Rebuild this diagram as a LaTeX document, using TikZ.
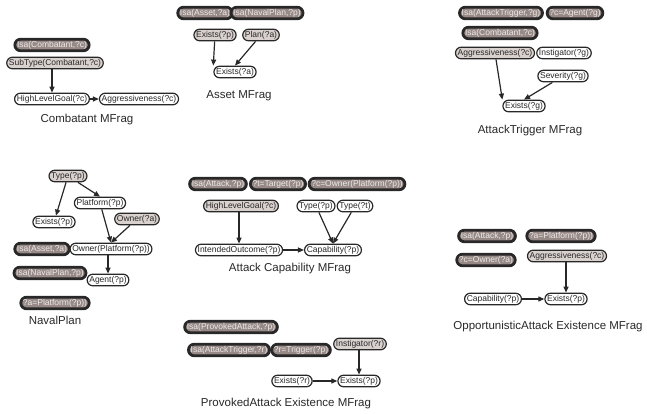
\documentclass[tikz,border=0pt]{standalone}
\usepackage{fontspec}
\setmainfont{Liberation Sans}
\usetikzlibrary{arrows.meta}
\definecolor{ctxfill}{RGB}{150,137,134}
\definecolor{ctxtext}{RGB}{238,234,233}
\definecolor{inpfill}{RGB}{217,209,206}
\definecolor{edge}{RGB}{40,40,40}
\tikzset{
  nd/.style={rectangle, rounded corners=5.8pt, inner xsep=2.2pt, inner ysep=1.4pt, minimum height=11.6pt, font=\fontsize{8.5}{9}\selectfont, text=edge},
  ctx/.style={nd, draw=edge, line width=2.8pt, fill=ctxfill, text=ctxtext},
  inp/.style={nd, draw=edge, line width=1.2pt, fill=inpfill},
  res/.style={nd, draw=edge, line width=1.2pt, fill=white},
  ttl/.style={font=\fontsize{11.5}{13}\selectfont, text=edge},
  arr/.style={draw=edge, line width=1.2pt, -{Triangle[length=6pt,width=5pt]}}
}
\begin{document}
\begin{tikzpicture}[x=1pt,y=-1pt]
\useasboundingbox (0,0) rectangle (647,414);
% Combatant MFrag
\node[ctx] (c1) at (52,45) {Isa(Combatant,?c)};
\node[inp] (c2) at (55,63) {SubType(Combatant,?c)};
\node[res] (c3) at (52,99) {HighLevelGoal(?c)};
\node[res] (c4) at (139,99) {Aggressiveness(?c)};
\node[ttl] (ct) at (87,120) {Combatant MFrag};
\draw[arr] (c2.south -| c3) -- (c3.north);
\draw[arr] (c3) -- (c4);
% Asset MFrag
\node[ctx] (a1) at (205,13) {Isa(Asset,?a)};
\node[ctx] (a2) at (267,13) {Isa(NavalPlan,?p)};
\node[inp] (a3) at (215,35) {Exists(?p)};
\node[inp] (a4) at (261,35) {Plan(?a)};
\node[res] (a5) at (235,72) {Exists(?a)};
\node[ttl] (at) at (239,96) {Asset MFrag};
\draw[arr] (a3) -- (a5.north west);
\draw[arr] (a4) -- (a5.north);
% AttackTrigger MFrag
\node[ctx] (t1) at (501,13) {Isa(AttackTrigger,?g)};
\node[ctx] (t2) at (575,13) {?c=Agent(?g)};
\node[ctx] (t3) at (500,33) {Isa(Combatant,?c)};
\node[inp] (t4) at (495,53) {Aggressiveness(?c)};
\node[res] (t5) at (564,53) {Instigator(?g)};
\node[res] (t6) at (563,76) {Severity(?g)};
\node[res] (t7) at (524,106) {Exists(?g)};
\node[ttl] (tt) at (530,131) {AttackTrigger MFrag};
\draw[arr] (t4) -- (t7.north west);
\draw[arr] (t6) -- (t7.north);
% NavalPlan
\node[inp] (n1) at (68,176) {Type(?p)};
\node[res] (n2) at (100,203) {Platform(?p)};
\node[res] (n3) at (54,222) {Exists(?p)};
\node[inp] (n4) at (137,219) {Owner(?a)};
\node[ctx] (n5) at (42,249) {Isa(Asset,?a)};
\node[res] (n6) at (111,249) {Owner(Platform(?p))};
\node[ctx] (n7) at (50,273) {Isa(NavalPlan,?p)};
\node[res] (n8) at (108,280) {Agent(?p)};
\node[ctx] (n9) at (55,303) {?a=Platform(?p))};
\node[ttl] (nt) at (55,320) {NavalPlan};
\draw[arr] (n1) -- (n3);
\draw[arr] (n1) -- (n2.north);
\draw[arr] (n2) -- (n6.north);
\draw[arr] (n4) -- (n6.north);
\draw[arr] (n6.south -| n8) -- (n8);
% Attack Capability MFrag
\node[ctx] (k1) at (218,184) {Isa(Attack,?p)};
\node[ctx] (k2) at (278,184) {?t=Target(?p)};
\node[ctx] (k3) at (357,184) {?c=Owner(Platform(?p))};
\node[inp] (k4) at (241,206) {HighLevelGoal(?c)};
\node[res] (k5) at (316,206) {Type(?p)};
\node[res] (k6) at (355,206) {Type(?t)};
\node[res] (k7) at (239,250) {IntendedOutcome(?p)};
\node[res] (k8) at (333,250) {Capability(?p)};
\node[ttl] (kt) at (290,269) {Attack Capability MFrag};
\draw[arr] (k4.south -| k7) -- (k7);
\draw[arr] (k7) -- (k8);
\draw[arr] (k5) -- (k8.north);
\draw[arr] (k6) -- (k8.north);
% OpportunisticAttack Existence MFrag
\node[ctx] (o1) at (487,236) {Isa(Attack,?p)};
\node[ctx] (o2) at (561,236) {?a=Platform(?p))};
\node[ctx] (o3) at (486,260) {?c=Owner(?a)};
\node[inp] (o4) at (567,256) {Aggressiveness(?c)};
\node[res] (o5) at (493,299) {Capability(?p)};
\node[res] (o6) at (566,299) {Exists(?p)};
\node[ttl] (ot) at (548,327) {OpportunisticAttack Existence MFrag};
\draw[arr] (o4.south -| o6) -- (o6);
\draw[arr] (o5) -- (o6);
% ProvokedAttack Existence MFrag
\node[ctx] (p1) at (231,327) {Isa(ProvokedAttack,?p)};
\node[ctx] (p2) at (229,350) {Isa(AttackTrigger,?r)};
\node[ctx] (p3) at (301,350) {?r=Trigger(?p)};
\node[inp] (p4) at (360,344) {Instigator(?r)};
\node[res] (p5) at (292,381) {Exists(?r)};
\node[res] (p6) at (359,381) {Exists(?p)};
\node[ttl] (pt) at (286,404) {ProvokedAttack Existence MFrag};
\draw[arr] (p4.south -| p6) -- (p6);
\draw[arr] (p5) -- (p6);
\end{tikzpicture}
\end{document}
